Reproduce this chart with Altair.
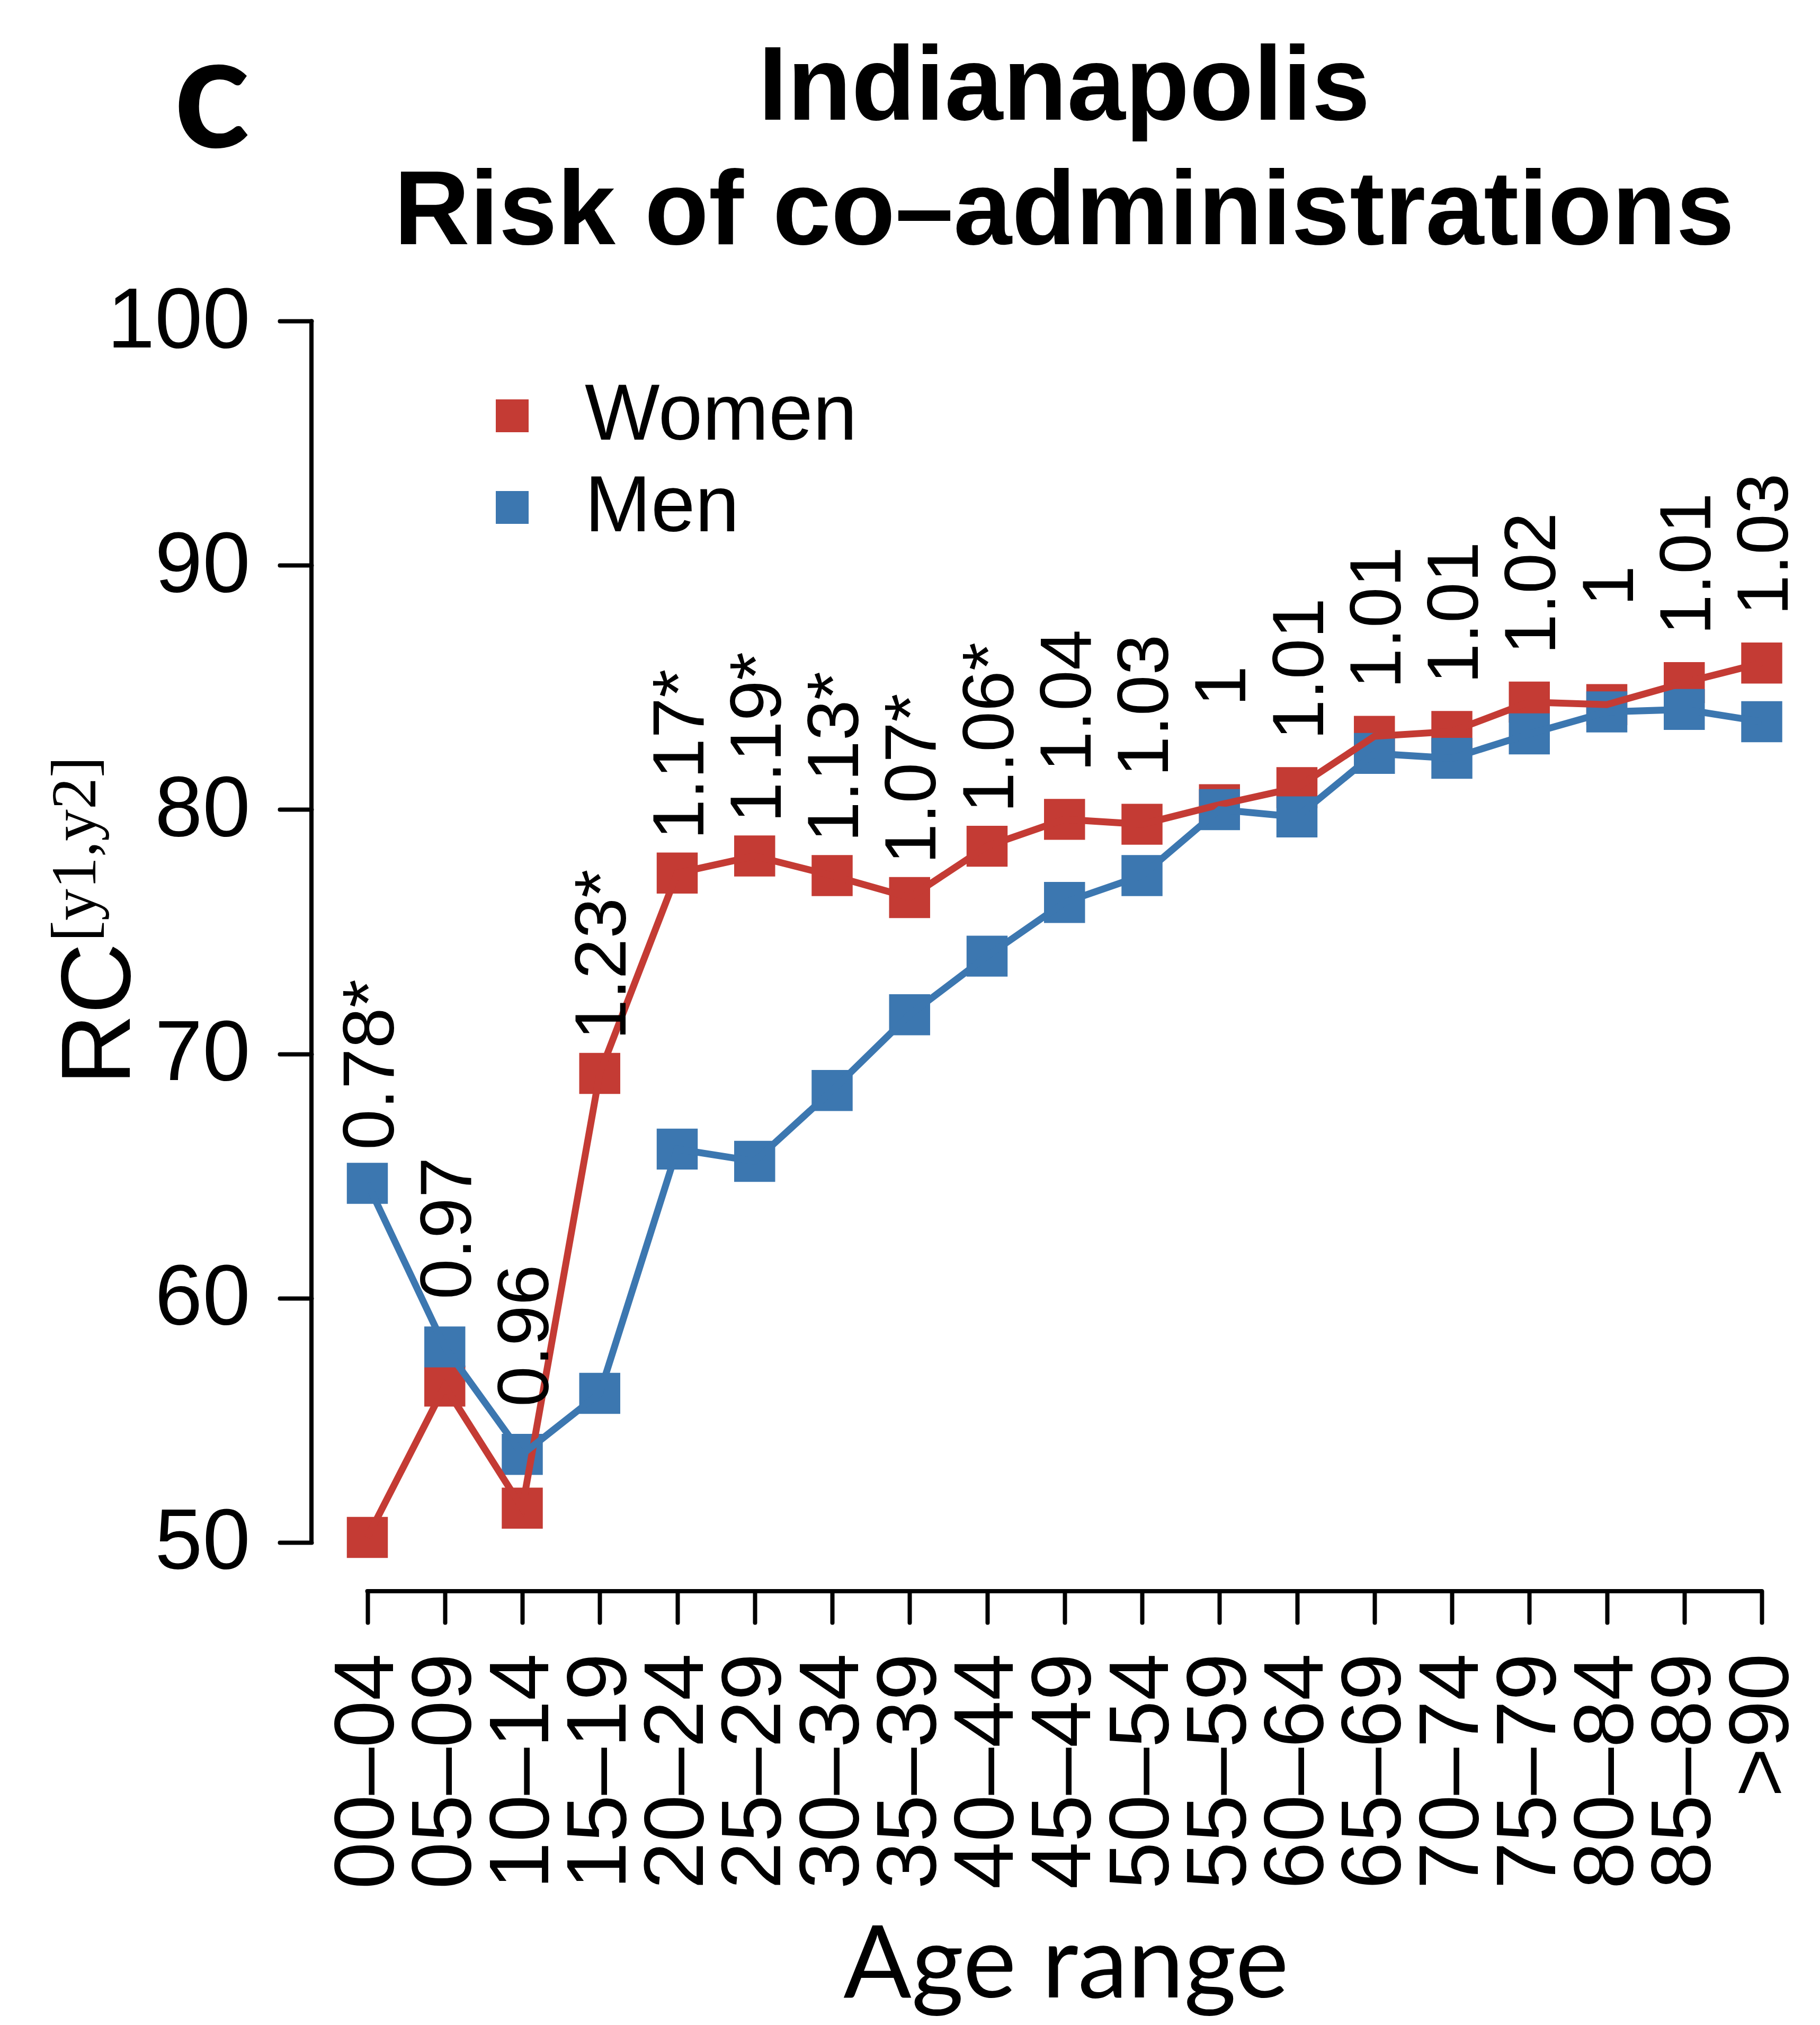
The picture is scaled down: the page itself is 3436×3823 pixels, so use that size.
import altair as alt
import pandas as pd

# ---- data ----
ages = ["00\u201304", "05\u201309", "10\u201314", "15\u201319", "20\u201324", "25\u201329",
        "30\u201334", "35\u201339", "40\u201344", "45\u201349", "50\u201354", "55\u201359",
        "60\u201364", "65\u201369", "70\u201374", "75\u201379", "80\u201384", "85\u201389", ">90"]
women = [50.2, 56.4, 51.4, 69.2, 77.4, 78.1, 77.3, 76.4, 78.5, 79.6, 79.4, 80.2,
         80.9, 83.0, 83.2, 84.4, 84.3, 85.2, 86.0]
men = [64.7, 58.0, 53.6, 56.1, 66.1, 65.6, 68.5, 71.6, 74.0, 76.2, 77.3, 80.0,
       79.7, 82.3, 82.1, 83.1, 84.0, 84.1, 83.6]
ratios = ["0.78*", "0.97", "0.96", "1.23*", "1.17*", "1.19*", "1.13*", "1.07*", "1.06*",
          "1.04", "1.03", "1", "1.01", "1.01", "1.01", "1.02", "1", "1.01", "1.03"]
series = ["Women", "Men"]
colors = ["#C43B34", "#3C77B0"]
y_ticks = [50, 60, 70, 80, 90, 100]

W, H = 2830, 2490

rows = []
for s, vals in (("Women", women), ("Men", men)):
    for i, (a, v) in enumerate(zip(ages, vals)):
        rows.append({"age": a, "idx": i, "sex": s, "rc": v})
df = pd.DataFrame(rows)

lab = pd.DataFrame({"age": ages, "label": ratios,
                    "top": [max(w, m) for w, m in zip(women, men)]})

xscale = alt.Scale(type="point", domain=ages, range=[105.5, 2738], padding=0)
yscale = alt.Scale(domain=[48, 102], nice=False, zero=False)

xaxis = alt.Axis(title="Age range", domain=False, grid=False, labelAngle=270,
                 labelAlign="right", labelBaseline="middle", labelFontSize=160,
                 labelFont="Liberation Sans", labelColor="black", labelPadding=58,
                 labelOverlap=False, labelLimit=0, labelFlush=False,
                 tickSize=59, tickWidth=8, tickColor="black", tickCap="round",
                 titleFont="Lato", titleFontSize=190, titleFontWeight="normal",
                 titleColor="black", titleX=1424, titleY=766, titleAlign="center",
                 titleBaseline="alphabetic", titleLimit=3000)
yaxis = alt.Axis(title="RC", values=y_ticks, domain=False, grid=False,
                 labelFontSize=162, labelFont="Liberation Sans", labelColor="black",
                 labelPadding=56, labelOverlap=False, labelLimit=0, labelFlush=False,
                 tickSize=60, tickWidth=8, tickColor="black", tickCap="round",
                 titleFont="Liberation Sans", titleFontSize=186, titleFontWeight="normal",
                 titleColor="black", titleAngle=270, titleX=-344, titleY=1400,
                 titleAlign="center", titleBaseline="alphabetic", titleLimit=3000)

color_enc = alt.Color("sex:N", scale=alt.Scale(domain=series, range=colors),
                      legend=alt.Legend(title=None, orient="none", legendX=304, legendY=196,
                                        direction="vertical", symbolType="square",
                                        symbolSize=3844, symbolStrokeWidth=0,
                                        symbolOpacity=1, labelFontSize=150,
                                        labelFont="Liberation Sans", labelColor="black",
                                        labelOffset=62, rowPadding=23, padding=0,
                                        labelLimit=3000))

base = alt.Chart(df)
points = base.mark_point(shape="square", filled=True, size=6000, opacity=1).encode(
    x=alt.X("age:O", scale=xscale, axis=xaxis, sort=ages),
    y=alt.Y("rc:Q", scale=yscale, axis=yaxis),
    color=color_enc,
)
lines = base.mark_line(strokeWidth=13).encode(
    x=alt.X("age:O", scale=xscale, sort=ages),
    y=alt.Y("rc:Q", scale=yscale),
    color=color_enc,
    order="idx:Q",
)
labels = alt.Chart(lab).mark_text(angle=270, align="center", baseline="middle", dx=224, dy=8,
                                  fontSize=138, font="Liberation Sans", color="black").encode(
    x=alt.X("age:O", scale=xscale, sort=ages),
    y=alt.Y("top:Q", scale=yscale),
    text="label:N",
)

one = pd.DataFrame({"k": [0]})
yline = alt.Chart(one).mark_rule(strokeWidth=8, color="black", strokeCap="round").encode(
    x=alt.value(0), y=alt.datum(50), y2=alt.datum(100))
xline = alt.Chart(one).mark_rule(strokeWidth=8, color="black", strokeCap="round").encode(
    x=alt.datum(ages[0]), x2=alt.datum(ages[-1]), y=alt.value(H))

title = alt.Chart(one).mark_text(text=["Indianapolis", "Risk of co\u2013administrations"],
                                 font="Liberation Sans", fontWeight="bold", fontSize=198,
                                 lineHeight=235, align="center", baseline="alphabetic",
                                 color="black").encode(x=alt.value(1421), y=alt.value(-288))
panel = alt.Chart(one).mark_text(text="c", font="Lato", fontWeight="bold", fontSize=300,
                                 align="center", baseline="alphabetic",
                                 color="black").encode(x=alt.value(-188), y=alt.value(-236))
sup = alt.Chart(one).mark_text(text="[y1,y2]", font="Liberation Serif", fontSize=120,
                               angle=270, align="center", baseline="alphabetic",
                               color="black").encode(x=alt.value(-408), y=alt.value(1089))

chart = alt.layer(points, lines, labels, yline, xline, title, panel, sup).properties(
    width=W, height=H,
    padding={"left": 580, "top": 506, "right": 0, "bottom": 810},
    autosize=alt.AutoSizeParams(type="none"),
    background="white",
).configure_view(stroke=None)

chart.save("out.html", embed_options={"renderer": "svg", "actions": False})
